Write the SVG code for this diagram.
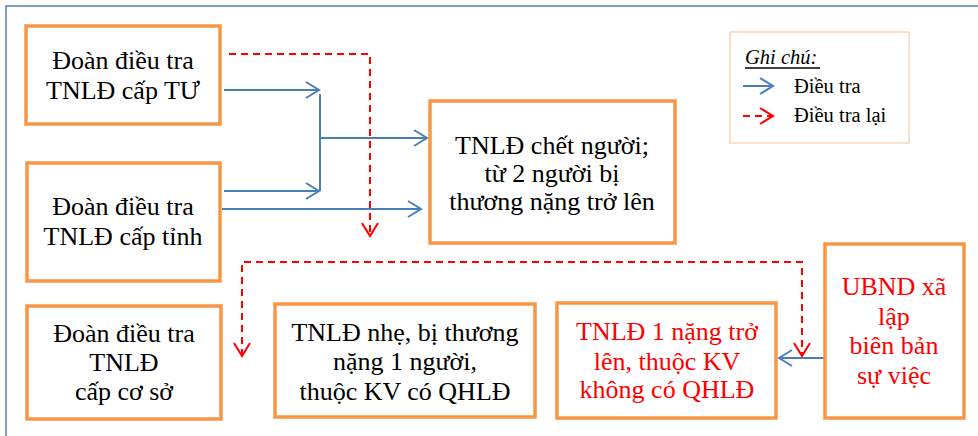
<svg xmlns="http://www.w3.org/2000/svg" width="978" height="436" viewBox="0 0 978 436">
<style>
.box{fill:#fff;stroke:#F79646;stroke-width:3.5}
text{font-family:'Liberation Serif','DejaVu Serif',serif}
.t{font-size:26px;fill:#000;text-anchor:middle}
.red{fill:#FF0000}
.lg{font-size:20.5px;fill:#000}
.blue{fill:none;stroke:#4A7EBB;stroke-width:2}
.dash{fill:none;stroke:#FF0000;stroke-width:2;stroke-dasharray:7,5}
</style>
<defs>
<marker id="ab" markerUnits="userSpaceOnUse" markerWidth="20" markerHeight="20" viewBox="-16 -10 20 20" refX="0" refY="0" orient="auto-start-reverse">
<path d="M-13,-8 L0,0 L-13,8" fill="none" stroke="#4A7EBB" stroke-width="2"/>
</marker>
<marker id="ar" markerUnits="userSpaceOnUse" markerWidth="20" markerHeight="20" viewBox="-16 -10 20 20" refX="0" refY="0" orient="auto-start-reverse">
<path d="M-13,-8 L0,0 L-13,8" fill="none" stroke="#FF0000" stroke-width="2"/>
</marker>
</defs>
<rect width="978" height="436" fill="#fff"/>
<path d="M6,436 V6 H978" fill="none" stroke="#4F81BD" stroke-width="1.5"/>

<g id="connectors">
<path class="blue" d="M224,90 H319" marker-end="url(#ab)"/>
<path class="blue" d="M320,94 V191"/>
<path class="blue" d="M320,138 H427" marker-end="url(#ab)"/>
<path class="blue" d="M224,191 H319" marker-end="url(#ab)"/>
<path class="blue" d="M222,209 H421" marker-end="url(#ab)"/>
<path class="blue" d="M825,358 H779" marker-end="url(#ab)"/>
<path class="dash" d="M229,54 H370 V236" marker-end="url(#ar)"/>
<path class="dash" d="M242,356 V262 H802 V356" marker-start="url(#ar)" marker-end="url(#ar)"/>
</g>

<g id="n-tu">
<rect class="box" x="26" y="26" width="194" height="98"/>
<text class="t" x="123" y="69">Đoàn điều tra</text>
<text class="t" x="123" y="99">TNLĐ cấp TƯ</text>
</g>
<g id="n-tinh">
<rect class="box" x="27" y="163" width="193" height="118"/>
<text class="t" x="123" y="215">Đoàn điều tra</text>
<text class="t" x="123" y="245">TNLĐ cấp tỉnh</text>
</g>
<g id="n-chet">
<rect class="box" x="430" y="101" width="245" height="142"/>
<text class="t" x="552" y="154">TNLĐ chết người;</text>
<text class="t" x="552" y="182">từ 2 người bị</text>
<text class="t" x="552" y="210">thương nặng trở lên</text>
</g>
<g id="legend">
<rect x="730" y="32" width="179" height="111" fill="#fff" stroke="#FBD5B5" stroke-width="1.5"/>
<text class="lg" x="745" y="64" font-style="italic">Ghi chú:</text>
<line x1="745" y1="68" x2="820" y2="68" stroke="#000" stroke-width="1.5"/>
<path class="blue" d="M743,86 H773" marker-end="url(#ab)"/>
<text class="lg" x="794" y="93">Điều tra</text>
<path d="M743,116 H773" fill="none" stroke="#FF0000" stroke-width="2" stroke-dasharray="7,5" marker-end="url(#ar)"/>
<text class="lg" x="794" y="122">Điều tra lại</text>
</g>
<g id="n-coso">
<rect class="box" x="27" y="306" width="194" height="113"/>
<text class="t" x="124" y="342">Đoàn điều tra</text>
<text class="t" x="124" y="371">TNLĐ</text>
<text class="t" x="124" y="400">cấp cơ sở</text>
</g>
<g id="n-nhe">
<rect class="box" x="275" y="304" width="260" height="113"/>
<text class="t" x="405" y="341">TNLĐ nhẹ, bị thương</text>
<text class="t" x="405" y="370">nặng 1 người,</text>
<text class="t" x="405" y="400">thuộc KV có QHLĐ</text>
</g>
<g id="n-khong">
<rect class="box" x="557" y="303" width="219" height="115"/>
<text class="t red" x="667" y="340">TNLĐ 1 nặng trở</text>
<text class="t red" x="667" y="370">lên, thuộc KV</text>
<text class="t red" x="667" y="398">không có QHLĐ</text>
</g>
<g id="n-ubnd">
<rect class="box" x="825" y="244" width="139" height="174"/>
<text class="t red" x="894" y="295">UBND xã</text>
<text class="t red" x="894" y="325">lập</text>
<text class="t red" x="894" y="354">biên bản</text>
<text class="t red" x="894" y="384">sự việc</text>
</g>
</svg>
